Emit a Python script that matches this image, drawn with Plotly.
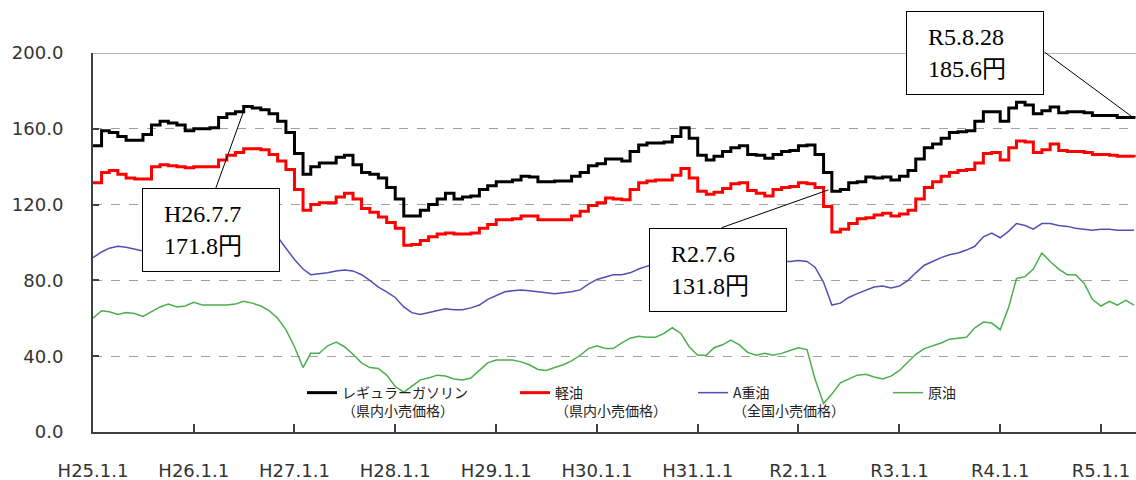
import pandas as pd
import plotly.graph_objects as go

# monthly readings, Jan 2013 (H25.1) .. May 2023 (R5.5)
months = pd.date_range("2013-01-01", periods=125, freq="MS")

gasoline = [151, 159, 158, 156, 154, 154, 157, 162, 164, 163, 162, 159,
            160, 160, 160.5, 166, 168, 169, 171.8, 171, 170, 168, 164, 158,
            147, 136, 140, 142, 142, 145, 146, 141, 137, 136, 134, 129,
            123, 114, 114, 117, 120, 123, 126, 123, 124, 124.5, 128, 130,
            132, 132, 133, 135, 134.5, 132, 132, 132.5, 132.5, 135, 137, 140.5,
            141.5, 144, 144, 143, 148, 151.5, 152.5, 152.5, 153, 156, 160.5, 155,
            146, 143.5, 145.5, 148, 150, 151, 146.5, 146, 144.5, 146.5, 148, 148.5,
            151, 151.5, 146.5, 137, 127, 128, 131.5, 132, 134.5, 134, 134.5, 133,
            135, 138, 144, 150, 152, 155, 158, 158.5, 159, 164, 169, 169,
            164, 171, 174, 172.5, 168, 169.5, 171.5, 168.5, 169, 169, 168.5, 167,
            167, 167, 166, 166, 165.5]

diesel = [131.5, 137, 138, 136, 134, 133.5, 133.5, 140, 141, 140.5, 140, 139.5,
          140, 140, 140, 143.5, 146, 147.5, 149.5, 149.5, 149, 146.5, 143, 138.5,
          128, 117, 120, 121, 121, 124, 126, 123, 118, 116, 113.5, 110.5,
          107.5, 98.5, 99, 101, 103, 104.5, 105, 104.5, 104.5, 105, 107.5, 109.5,
          112, 112, 112.5, 114, 114, 112, 112, 112, 112, 114, 116.5, 119.5,
          121, 123.5, 123, 122.5, 128, 131.5, 132.5, 133, 133, 135.5, 139, 134,
          127, 125.5, 126.5, 128.5, 131, 131.5, 127.5, 126, 124.5, 128, 129, 129.5,
          131.5, 131, 129, 119, 105.5, 107, 110, 112.5, 113, 114.5, 115.5, 114,
          115, 117, 123, 129, 132, 135, 137, 138, 138.5, 142, 147, 147.5,
          143.5, 150, 153.5, 153, 147.5, 149, 152, 148.5, 148, 148, 147.5, 146.5,
          146.5, 146, 145.5, 145.5, 145]

heavy_oil_a = [92, 95, 97, 98, 97.5, 96.5, 95.5, 95, 96, 97, 98, 99,
               100, 101, 101, 102, 103, 104, 105, 105, 105, 104, 103, 97,
               91, 86, 83, 83.5, 84, 85, 85.5, 85, 83, 80, 76.5, 74,
               71, 66, 63, 62, 63, 64, 65, 64.5, 64.5, 65.5, 67, 70,
               72, 74, 74.5, 75, 74.5, 74, 73.5, 73, 73.5, 74, 75, 78,
               80.5, 82, 83, 83, 84, 86, 87.5, 89, 91, 93, 96, 93,
               90.5, 90, 90, 91, 92, 91, 90, 89, 89, 89.5, 90, 90,
               90.5, 90, 87, 79, 67, 68, 71, 73, 75, 76.5, 77, 76,
               77, 80, 84, 88, 90, 92, 93.5, 94.5, 96, 98, 103, 105,
               102.5, 106, 110, 109, 107, 110, 110, 109, 108.5, 107.5, 107, 106.5,
               107, 107, 106.5, 106.5, 106.5]

crude = [60, 64, 63.5, 62, 63, 62.5, 61, 63.5, 66, 67.5, 66, 66.5,
         68.5, 67, 67, 67, 67, 67.5, 69, 68, 66.5, 64, 60, 54,
         45, 34, 41.5, 41.5, 45.5, 47.5, 45, 41, 36.5, 34, 33.5, 30,
         24, 21, 24, 27.5, 28.5, 30, 29.5, 28, 27.5, 28.5, 32.5, 36.5,
         38, 38, 38, 37, 35.5, 33, 32.5, 34, 35.5, 37.5, 40.5, 44,
         45.5, 44, 44, 47, 49.5, 50.5, 50, 50, 52, 55, 52, 45,
         40.5, 40.5, 44.5, 46, 48.5, 46, 42, 40.5, 41.5, 40.5, 41.5, 43,
         44.5, 43.5, 28, 15, 20, 26, 28, 30, 30.5, 29, 28, 29.5,
         32.5, 37, 41, 44, 45.5, 47, 49, 49.5, 50, 55, 58, 57.5,
         54, 66, 81, 82, 86, 94.5, 90, 86, 83, 83, 78.5, 70,
         66.5, 69, 67, 69.5, 67]

tick_dates = pd.date_range("2013-01-01", periods=11, freq="YS")
tick_labels = ["H25.1.1", "H26.1.1", "H27.1.1", "H28.1.1", "H29.1.1", "H30.1.1",
               "H31.1.1", "R2.1.1", "R3.1.1", "R4.1.1", "R5.1.1"]

fig = go.Figure()
fig.add_trace(go.Scatter(x=months, y=gasoline, mode="lines", line_shape="hv",
                         line=dict(color="black", width=3), legendwidth=168,
                         name="レギュラーガソリン<br>（県内小売価格）"))
fig.add_trace(go.Scatter(x=months, y=diesel, mode="lines", line_shape="hv",
                         line=dict(color="#ff0000", width=3), legendwidth=133,
                         name="軽油<br>（県内小売価格）"))
fig.add_trace(go.Scatter(x=months, y=heavy_oil_a, mode="lines",
                         line=dict(color="#5050b4", width=1.5), legendwidth=150,
                         name="A重油<br>（全国小売価格）"))
fig.add_trace(go.Scatter(x=months, y=crude, mode="lines",
                         line=dict(color="#4caf4c", width=1.5), legendwidth=60,
                         name="原油"))

box_font = dict(family="Liberation Serif, Noto Sans CJK JP", size=24, color="black")
box = dict(showarrow=False, bordercolor="black", borderwidth=1, bgcolor="white",
           borderpad=9, width=118, height=64, align="left", font=box_font,
           xanchor="center", yanchor="middle")

# leader lines
fig.add_annotation(x="2014-07-07", y=171.8, text="", showarrow=True, arrowhead=0,
                   arrowwidth=1, arrowcolor="black", ax=-30, ay=83)
fig.add_annotation(x="2020-07-06", y=131.8, text="", showarrow=True, arrowhead=0,
                   arrowwidth=1, arrowcolor="black", ax=-130, ay=46, standoff=23)
fig.add_annotation(xref="paper", yref="paper", x=1.023, y=0.826, text="",
                   showarrow=True, arrowhead=0, arrowwidth=1, arrowcolor="black",
                   ax=-117, ay=-68)
# label boxes
fig.add_annotation(x="2014-07-07", y=171.8, text="\u2002H26.7.7<br>\u2002171.8円",
                   xshift=-34, yshift=-124, **box)
fig.add_annotation(x="2020-07-06", y=131.8, text="\u2002R2.7.6<br>\u2002131.8円",
                   xshift=-132, yshift=-88, **box)
fig.add_annotation(xref="paper", yref="paper", x=0.8456, y=1.0013,
                   text="\u2002R5.8.28<br>\u2002185.6円", **box)

# solid top border at 200
fig.add_shape(type="line", xref="paper", yref="y", x0=0, x1=1, y0=200, y1=200,
              line=dict(color="#a0a0a0", width=1.5))

fig.update_layout(
    width=1136, height=480,
    margin=dict(l=93, r=0, t=53, b=48, autoexpand=False),
    paper_bgcolor="white", plot_bgcolor="white",
    showlegend=True,
    legend=dict(orientation="h", x=0.2004, xanchor="left", y=0.145, yanchor="top",
                bgcolor="rgba(0,0,0,0)", valign="top",
                font=dict(family="Noto Sans CJK JP", size=14, color="#222")),
    xaxis=dict(range=["2013-01-01", "2023-05-08"], tickvals=tick_dates,
               ticktext=tick_labels, ticks="inside", ticklen=8, tickwidth=2,
               tickcolor="#404040", showline=True, linecolor="#404040", linewidth=2,
               showgrid=False, ticklabelstandoff=21, automargin=False,
               tickfont=dict(family="DejaVu Sans", size=18, color="#333")),
    yaxis=dict(range=[0, 200], tickvals=[0, 40, 80, 120, 160, 200],
               tickformat=".1f", ticks="inside", ticklen=6, tickwidth=2,
               tickcolor="#404040", showline=True, linecolor="#404040", linewidth=2,
               showgrid=True, gridcolor="#a0a0a0", griddash="dash", gridwidth=1,
               zeroline=False, ticklabelstandoff=24, automargin=False,
               tickfont=dict(family="DejaVu Sans", size=18, color="#333")),
)

fig.write_html("out.html", config={"displayModeBar": False},
               post_script="document.body.style.margin='0';")
